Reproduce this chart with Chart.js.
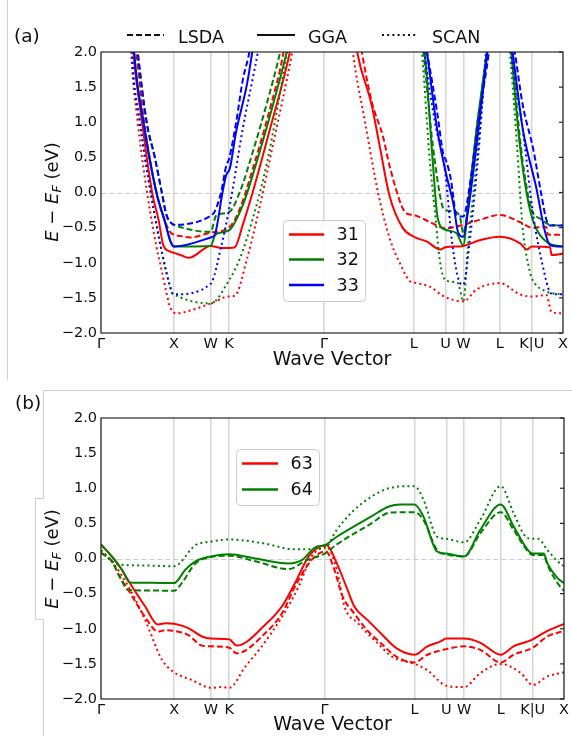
<!DOCTYPE html>
<html><head><meta charset="utf-8">
<script src="https://cdn.jsdelivr.net/npm/chart.js@4.4.0/dist/chart.umd.min.js"></script>
<style>
  html,body{margin:0;padding:0;background:#fff;}
  body{width:572px;height:736px;overflow:hidden;position:relative;font-family:'DejaVu Sans',sans-serif;color:#111;}
  canvas{position:absolute;left:0;}
  #cA{top:0;} #cB{top:385px;}
  .ln{position:absolute;background:#cfcfcf;}
  .ylab{position:absolute;transform:translate(-50%,-50%) rotate(-90deg);font-size:18px;white-space:nowrap;line-height:1;color:#111;}
  .ylab sub{font-size:0.7em;vertical-align:-0.25em;}
  .plab{position:absolute;font-size:18.5px;color:#111;line-height:1;}
  #bracket{position:absolute;left:35px;top:498px;width:8px;height:120px;border:1px solid #cfcfcf;border-right:none;background:#fff;}
</style></head>
<body>
<div class="ln" style="left:7px;top:0;width:1px;height:380px"></div>
<div class="ln" style="left:43px;top:390px;width:529px;height:1px"></div>
<div class="ln" style="left:43px;top:390px;width:1px;height:108px"></div>
<div class="ln" style="left:43px;top:619px;width:1px;height:117px"></div>
<div id="bracket"></div>
<canvas id="cA" width="572" height="385"></canvas>
<canvas id="cB" width="572" height="351"></canvas>
<div class="plab" style="left:14px;top:27px">(a)</div>
<div class="plab" style="left:15px;top:394px">(b)</div>
<svg style="position:absolute;left:0;top:0" width="572" height="50">
  <line x1="127" y1="35" x2="164" y2="35" stroke="#111" stroke-width="2" stroke-dasharray="6,3"/>
  <text x="178" y="43" font-family="DejaVu Sans" font-size="17.5" fill="#111">LSDA</text>
  <line x1="257" y1="35" x2="295" y2="35" stroke="#111" stroke-width="2"/>
  <text x="308" y="43" font-family="DejaVu Sans" font-size="17.5" fill="#111">GGA</text>
  <line x1="382" y1="35" x2="416" y2="35" stroke="#111" stroke-width="2" stroke-dasharray="2,3.2"/>
  <text x="432" y="43" font-family="DejaVu Sans" font-size="17.5" fill="#111">SCAN</text>
</svg>
<div class="ylab" style="left:53px;top:192px"><i>E</i> − <i>E</i><sub><i>F</i></sub> (eV)</div>
<div class="ylab" style="left:53px;top:559px"><i>E</i> − <i>E</i><sub><i>F</i></sub> (eV)</div>
<script>
// ---- axis data ----
const kpos = [0, 1.014, 1.524, 1.778, 3.101, 4.347, 4.788, 5.035, 5.542, 5.986, 6.42];
const klabels = ['Γ','X','W','K','Γ','L','U','W','L','K|U','X'];
const yticks = [-2, -1.5, -1, -0.5, 0, 0.5, 1, 1.5, 2];
const bandsA = ['31','32','33'];
const bandsB = ['63','64'];

// ---- panel (a) bands: [k, E-EF] ----
const a33_lsda = [[0.45,2.6],[0.51,2.0],[0.635,1.0],[0.75,0.49],[0.845,0.0],[0.91,-0.32],[0.98,-0.44],[1.014,-0.46],
 [1.524,-0.33],[1.58,-0.27],[1.67,0.01],[1.74,0.38],[1.78,0.48],[1.875,0.98],[1.97,1.6],[2.07,2.05],[2.1,2.3],[3.1,null],
 [4.46,2.4],[4.53,2.0],[4.67,1.15],[4.76,0.53],[4.79,0.47],[4.86,0.2],[4.94,-0.32],[5.035,-0.34],[5.125,0.11],[5.26,1.15],[5.39,2.0],[5.42,2.3],[5.55,null],
 [5.70,2.3],[5.75,2.0],[5.86,1.25],[6.01,0.6],[6.11,0.02],[6.20,-0.42],[6.26,-0.47],[6.42,-0.47]];
const a33_gga = [[0.43,2.6],[0.46,2.0],[0.59,1.0],[0.77,0.0],[0.89,-0.42],[0.96,-0.68],[1.014,-0.77],
 [1.524,-0.64],[1.58,-0.60],[1.69,0.01],[1.74,0.25],[1.79,0.34],[1.875,0.85],[2.03,1.55],[2.11,2.05],[2.15,2.3],[3.1,null],
 [4.49,2.3],[4.53,2.0],[4.67,0.91],[4.788,0.30],[4.90,-0.18],[4.96,-0.56],[5.035,-0.63],[5.10,-0.27],[5.22,0.68],[5.37,2.0],[5.40,2.3],[5.55,null],
 [5.68,2.3],[5.72,2.0],[5.86,0.91],[6.05,0.06],[6.17,-0.56],[6.24,-0.75],[6.42,-0.77]];
const a33_scan = [[0.41,2.6],[0.43,2.0],[0.54,1.0],[0.69,0.0],[0.85,-0.87],[0.96,-1.34],[0.99,-1.43],[1.014,-1.45],
 [1.524,-1.30],[1.67,-0.77],[1.76,-0.34],[1.83,0.05],[1.97,0.91],[2.11,1.63],[2.18,2.0],[2.21,2.2],[3.1,null],
 [4.45,2.3],[4.49,2.0],[4.64,1.0],[4.788,0.25],[4.875,-0.68],[4.99,-1.29],[5.035,-1.31],[5.125,-0.68],[5.26,0.75],[5.35,2.0],[5.38,2.3],[5.55,null],
 [5.67,2.3],[5.70,2.0],[5.86,0.9],[6.01,-0.35],[6.14,-1.05],[6.24,-1.42],[6.30,-1.45],[6.42,-1.45]];
const a32_lsda = [[0.45,2.6],[0.51,2.0],[0.635,1.0],[0.75,0.49],[0.845,0.0],[0.91,-0.32],[0.98,-0.44],[1.014,-0.46],
 [1.524,-0.56],[1.60,-0.33],[1.778,-0.28],[1.93,0.01],[2.11,0.58],[2.31,1.29],[2.49,2.0],[2.53,2.2],[3.1,null],
 [4.43,2.4],[4.48,2.0],[4.61,0.68],[4.74,-0.18],[4.788,-0.25],[4.94,-0.28],[4.99,-0.36],[5.035,-0.58],[5.10,-0.2],[5.22,0.9],[5.36,2.0],[5.39,2.3],[5.55,null],
 [5.66,2.3],[5.70,2.0],[5.86,0.44],[5.986,-0.25],[6.10,-0.37],[6.24,-0.46],[6.42,-0.47]];
const a32_gga = [[0.43,2.6],[0.46,2.0],[0.59,1.0],[0.77,0.0],[0.89,-0.42],[0.96,-0.68],[1.014,-0.77],
 [1.524,-0.76],[1.59,-0.60],[1.778,-0.54],[1.97,-0.18],[2.15,0.39],[2.39,1.25],[2.58,2.0],[2.62,2.2],[3.1,null],
 [4.46,2.3],[4.50,2.0],[4.61,0.44],[4.68,-0.37],[4.788,-0.53],[4.94,-0.58],[5.035,-0.75],[5.10,-0.18],[5.22,0.91],[5.36,2.0],[5.39,2.3],[5.55,null],
 [5.67,2.3],[5.70,2.0],[5.82,0.68],[5.92,-0.04],[6.01,-0.42],[6.19,-0.70],[6.42,-0.77]];
const a32_scan = [[0.41,2.6],[0.43,2.0],[0.54,1.0],[0.69,0.0],[0.85,-0.87],[0.96,-1.34],[0.99,-1.43],[1.014,-1.45],
 [1.524,-1.58],[1.778,-1.25],[1.93,-0.94],[2.11,-0.37],[2.31,0.44],[2.58,1.96],[2.62,2.2],[3.1,null],
 [4.42,2.4],[4.46,2.0],[4.57,0.44],[4.64,-0.27],[4.71,-0.98],[4.788,-1.25],[4.96,-1.29],[5.035,-1.55],[5.10,-0.75],[5.22,0.44],[5.36,2.0],[5.39,2.3],[5.55,null],
 [5.64,2.3],[5.68,2.0],[5.78,0.68],[5.86,-0.51],[5.96,-1.13],[5.986,-1.22],[6.19,-1.41],[6.42,-1.45]];
const a31_lsda = [[0.42,2.6],[0.49,2.0],[0.60,1.0],[0.77,0.0],[0.865,-0.34],[0.96,-0.56],[1.014,-0.60],[1.10,-0.62],[1.24,-0.64],
 [1.524,-0.57],[1.778,-0.50],[1.93,-0.23],[2.11,0.34],[2.35,1.2],[2.53,1.96],[2.58,2.3],[3.1,null],
 [3.58,2.3],[3.625,2.0],[3.76,1.3],[3.92,0.79],[4.01,0.38],[4.19,-0.22],[4.25,-0.30],[4.347,-0.32],[4.57,-0.42],[4.788,-0.51],[5.035,-0.46],
 [5.26,-0.39],[5.542,-0.32],[5.82,-0.42],[5.986,-0.50],[6.19,-0.49],[6.21,-0.60],[6.42,-0.60]];
const a31_gga = [[0.41,2.6],[0.45,2.0],[0.57,1.0],[0.71,0.0],[0.80,-0.39],[0.865,-0.75],[0.96,-0.84],[1.014,-0.86],[1.13,-0.90],[1.22,-0.93],
 [1.524,-0.76],[1.68,-0.79],[1.778,-0.79],[1.86,-0.78],[1.97,-0.46],[2.11,0.01],[2.35,0.91],[2.625,2.0],[2.67,2.25],[3.1,null],
 [3.52,2.3],[3.56,2.0],[3.76,1.25],[3.875,0.65],[4.01,-0.05],[4.19,-0.5],[4.347,-0.63],[4.53,-0.70],[4.71,-0.81],[4.788,-0.78],[5.035,-0.76],
 [5.26,-0.68],[5.542,-0.63],[5.82,-0.72],[5.92,-0.81],[5.986,-0.77],[6.24,-0.78],[6.26,-0.89],[6.42,-0.87]];
const a31_scan = [[0.40,2.6],[0.42,2.0],[0.51,1.0],[0.64,0.0],[0.77,-0.77],[0.82,-1.0],[0.91,-1.43],[0.96,-1.63],[1.05,-1.72],[1.24,-1.68],
 [1.524,-1.58],[1.778,-1.48],[1.86,-1.47],[2.03,-0.94],[2.21,-0.18],[2.39,0.68],[2.65,1.96],[2.69,2.2],[3.1,null],
 [3.46,2.4],[3.50,2.0],[3.67,1.0],[3.85,0.0],[4.01,-0.65],[4.15,-1.0],[4.29,-1.26],[4.347,-1.28],[4.57,-1.34],[4.75,-1.47],[5.035,-1.55],
 [5.22,-1.38],[5.542,-1.29],[5.82,-1.45],[5.986,-1.48],[6.19,-1.46],[6.26,-1.70],[6.42,-1.72]];

// ---- panel (b) bands ----
const b64_gga = [[0,0.20],[0.15,0.03],[0.29,-0.16],[0.40,-0.34],[0.70,-0.345],[1.014,-0.35],[1.17,-0.16],[1.31,-0.04],[1.524,0.03],[1.778,0.06],
 [2.14,0.0],[2.60,-0.07],[2.79,-0.02],[2.97,0.16],[3.101,0.19],[3.27,0.31],[3.75,0.6],[3.99,0.74],[4.15,0.77],[4.347,0.77],[4.47,0.6],[4.66,0.1],
 [4.788,0.07],[5.035,0.03],[5.26,0.41],[5.542,0.77],[5.72,0.46],[5.92,0.12],[5.986,0.07],[6.14,0.07],[6.19,-0.07],[6.33,-0.28],[6.42,-0.35]];
const b64_lsda = [[0,0.08],[0.15,-0.04],[0.26,-0.26],[0.38,-0.45],[0.70,-0.455],[1.014,-0.46],[1.12,-0.35],[1.31,-0.07],[1.524,0.02],[1.778,0.04],
 [2.14,-0.04],[2.60,-0.15],[2.86,-0.02],[3.101,0.07],[3.27,0.2],[3.75,0.5],[3.99,0.65],[4.15,0.66],[4.347,0.66],[4.47,0.55],[4.66,0.12],
 [4.788,0.06],[5.035,0.03],[5.26,0.36],[5.542,0.66],[5.72,0.41],[5.92,0.1],[5.986,0.05],[6.14,0.05],[6.19,-0.09],[6.33,-0.35],[6.42,-0.46]];
const b64_scan = [[0,0.12],[0.15,-0.04],[0.29,-0.09],[0.61,-0.10],[1.014,-0.11],[1.31,0.19],[1.524,0.24],[1.778,0.27],[2.23,0.22],[2.69,0.13],
 [3.101,0.15],[3.27,0.41],[3.49,0.67],[3.75,0.88],[3.99,1.0],[4.347,1.03],[4.47,0.84],[4.66,0.31],[4.788,0.28],[5.035,0.23],[5.26,0.55],
 [5.542,1.03],[5.72,0.65],[5.89,0.31],[5.986,0.28],[6.06,0.28],[6.19,0.12],[6.33,-0.04],[6.42,-0.11]];
const b63_gga = [[0,0.20],[0.15,0.03],[0.29,-0.16],[0.40,-0.35],[0.61,-0.68],[0.79,-0.94],[0.90,-0.92],[1.014,-0.93],[1.21,-0.99],[1.40,-1.11],
 [1.524,-1.14],[1.778,-1.15],[1.88,-1.24],[2.28,-0.94],[2.51,-0.68],[2.69,-0.35],[2.88,0.03],[3.06,0.18],[3.13,0.19],[3.27,-0.07],[3.42,-0.45],
 [3.51,-0.68],[3.69,-0.87],[3.875,-1.06],[4.10,-1.28],[4.347,-1.37],[4.525,-1.25],[4.71,-1.18],[4.788,-1.14],[5.035,-1.14],[5.26,-1.2],
 [5.542,-1.37],[5.72,-1.25],[5.92,-1.18],[5.986,-1.15],[6.19,-1.03],[6.42,-0.93]];
const b63_lsda = [[0,0.08],[0.15,-0.04],[0.26,-0.26],[0.38,-0.45],[0.61,-0.83],[0.79,-1.04],[0.90,-1.02],[1.014,-1.03],[1.21,-1.09],[1.40,-1.24],
 [1.524,-1.25],[1.778,-1.27],[1.88,-1.35],[2.28,-1.06],[2.51,-0.78],[2.69,-0.40],[2.92,-0.02],[3.06,0.09],[3.12,0.1],[3.22,-0.11],[3.35,-0.54],
 [3.51,-0.78],[3.69,-1.02],[3.875,-1.2],[4.10,-1.4],[4.347,-1.48],[4.525,-1.37],[4.788,-1.29],[5.035,-1.25],[5.26,-1.3],[5.542,-1.48],
 [5.72,-1.37],[5.986,-1.27],[6.19,-1.11],[6.42,-1.03]];
const b63_scan = [[0,0.12],[0.15,-0.04],[0.38,-0.40],[0.61,-0.87],[0.845,-1.44],[1.014,-1.62],[1.26,-1.73],[1.524,-1.84],[1.69,-1.83],[1.778,-1.84],
 [2.0,-1.54],[2.23,-1.25],[2.51,-0.83],[2.74,-0.40],[2.92,0.03],[3.06,0.15],[3.12,0.17],[3.27,-0.16],[3.375,-0.68],[3.56,-0.92],[3.83,-1.2],
 [4.04,-1.4],[4.347,-1.5],[4.525,-1.59],[4.788,-1.81],[5.035,-1.83],[5.26,-1.63],[5.542,-1.5],[5.82,-1.63],[5.986,-1.8],[6.19,-1.68],[6.42,-1.62]];

// ---- styles ----
const bandColor = {'31':'#ff0000','32':'#008000','33':'#0000ff','63':'#ff0000','64':'#008000'};
const methodDash = {LSDA:[6,3], GGA:[], SCAN:[2,3.2]};
Chart.defaults.font.family = "'DejaVu Sans'";

function ds(arr, band, method){
  return { label: band + ' ' + method, data: arr.map(p => ({x:p[0], y:p[1]})),
    borderColor: bandColor[band], borderDash: methodDash[method], borderWidth: 2,
    pointRadius: 0, fill: false, cubicInterpolationMode: 'monotone', capBezierPoints: false,
    borderCapStyle: 'butt', borderJoinStyle: 'round', spanGaps: false };
}
const fmt = v => (Math.abs(v) < 1e-9 ? 0 : v).toFixed(1).replace('-', '\u2212');

const framePlugin = {
  id: 'frame',
  beforeDatasetsDraw(chart){
    const {ctx, chartArea:a, scales:{y}} = chart;
    const y0 = Math.round(y.getPixelForValue(0)) + 0.5;
    ctx.save(); ctx.strokeStyle = '#cccccc'; ctx.lineWidth = 1; ctx.setLineDash([5,3]);
    ctx.beginPath(); ctx.moveTo(a.left, y0); ctx.lineTo(a.right, y0); ctx.stroke(); ctx.restore();
  },
  afterDatasetsDraw(chart){
    const {ctx, chartArea:a, scales:{y}} = chart;
    ctx.save(); ctx.strokeStyle = '#262626'; ctx.lineWidth = 1.2; ctx.setLineDash([]);
    ctx.strokeRect(a.left, a.top, a.right - a.left, a.bottom - a.top);
    yticks.forEach(v => { const py = y.getPixelForValue(v);
      ctx.beginPath(); ctx.moveTo(a.right, py); ctx.lineTo(a.right - 4, py); ctx.stroke(); });
    ctx.restore();
  }
};
const legendPlugin = {
  id: 'bandLegend',
  afterDraw(chart, args, o){
    if (!o || !o.labels) return;
    const ctx = chart.ctx;
    ctx.save();
    ctx.fillStyle = 'rgba(255,255,255,0.85)'; ctx.strokeStyle = '#cccccc'; ctx.lineWidth = 1;
    const r = 4, x = o.x + 0.5, y = o.y + 0.5, w = o.w, h = o.h;
    ctx.beginPath(); ctx.moveTo(x + r, y); ctx.arcTo(x + w, y, x + w, y + h, r); ctx.arcTo(x + w, y + h, x, y + h, r);
    ctx.arcTo(x, y + h, x, y, r); ctx.arcTo(x, y, x + w, y, r); ctx.closePath(); ctx.fill(); ctx.stroke();
    o.labels.forEach((lab, i) => {
      const ry = o.rowY[i];
      ctx.strokeStyle = bandColor[lab]; ctx.lineWidth = 2.5;
      ctx.beginPath(); ctx.moveTo(o.l0, ry); ctx.lineTo(o.l1, ry); ctx.stroke();
      ctx.fillStyle = '#111'; ctx.font = "17.5px 'DejaVu Sans'"; ctx.textBaseline = 'middle'; ctx.textAlign = 'left';
      ctx.fillText(lab, o.tx, ry + 1);
    });
    ctx.restore();
  }
};

function makeChart(id, datasets, c){
  return new Chart(document.getElementById(id), {
    type: 'line',
    data: { datasets },
    options: {
      responsive: false, animation: false, events: [],
      layout: { padding: { top: c.padTop, right: c.padRight, bottom: c.padBottom, left: 0 } },
      plugins: { legend: {display:false}, tooltip: {enabled:false}, bandLegend: c.legend },
      scales: {
        x: { type: 'linear', min: 0, max: 6.42,
          afterBuildTicks: s => { s.ticks = kpos.map(v => ({value: v})); },
          afterFit: s => { s.height = c.xH; },
          grid: { color: '#d6d6d6', lineWidth: 1.5, drawTicks: false },
          border: { display: false },
          ticks: { autoSkip: false, maxRotation: 0, minRotation: 0, padding: 3, color: '#111',
                   font: { size: 14.5 }, callback: (v, i) => klabels[i] },
          title: { display: true, text: 'Wave Vector', color: '#111', font: { size: 19 }, padding: 0 } },
        y: { min: -2, max: 2,
          afterBuildTicks: s => { s.ticks = yticks.map(v => ({value: v})); },
          afterFit: s => { s.width = 101; },
          grid: { display: false, drawTicks: false }, border: { display: false },
          ticks: { padding: 4, color: '#111', font: { size: 14.5 }, callback: v => fmt(v) } }
      }
    },
    plugins: [framePlugin, legendPlugin]
  });
}

const dsA = [
  ds(a33_lsda,'33','LSDA'), ds(a33_gga,'33','GGA'), ds(a33_scan,'33','SCAN'),
  ds(a32_lsda,'32','LSDA'), ds(a32_gga,'32','GGA'), ds(a32_scan,'32','SCAN'),
  ds(a31_lsda,'31','LSDA'), ds(a31_gga,'31','GGA'), ds(a31_scan,'31','SCAN')
];
const dsB = [
  ds(b64_lsda,'64','LSDA'), ds(b64_gga,'64','GGA'), ds(b64_scan,'64','SCAN'),
  ds(b63_lsda,'63','LSDA'), ds(b63_gga,'63','GGA'), ds(b63_scan,'63','SCAN')
];
makeChart('cA', dsA, { padTop: 52, padRight: 9, padBottom: 14, xH: 38,
  legend: { labels: bandsA, x: 283, y: 220, w: 82, h: 81, rowY: [234.5, 259.5, 285], l0: 289, l1: 324, tx: 336.5 } });
makeChart('cB', dsB, { padTop: 33, padRight: 8, padBottom: 0, xH: 37,
  legend: { labels: bandsB, x: 236, y: 64, w: 83, h: 56, rowY: [78.5, 104.5], l0: 242, l1: 278, tx: 290.5 } });
</script>
</body></html>
